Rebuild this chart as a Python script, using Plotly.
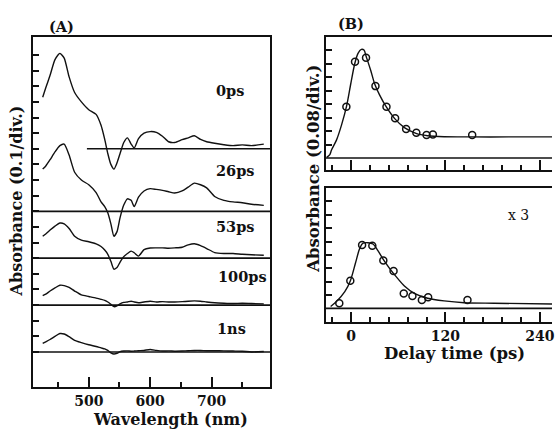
import plotly.graph_objects as go

W, H = 555, 429

# ---------------- Panel A: transient spectra ----------------
wl = [425, 430, 437, 445, 453, 460, 468, 477, 488, 500, 512, 520, 526, 531, 536,
      541, 546, 551, 557, 563, 569, 574, 581, 590, 600, 610, 620, 630, 640, 652,
      662, 672, 682, 692, 705, 720, 735, 750, 765, 785]

spec_0ps = [0.33, 0.39, 0.47, 0.57, 0.61, 0.58, 0.46, 0.36, 0.30, 0.25, 0.22, 0.15, 0.06, -0.03, -0.10,
            -0.13, -0.09, -0.03, 0.04, 0.07, 0.03, 0.005, 0.065, 0.10, 0.11, 0.105, 0.08, 0.045, 0.04, 0.058,
            0.07, 0.083, 0.06, 0.045, 0.035, 0.026, 0.02, 0.025, 0.02, 0.03]
spec_26ps = [0.27, 0.29, 0.33, 0.38, 0.42, 0.43, 0.36, 0.25, 0.20, 0.17, 0.12, 0.06, 0.03, -0.01, -0.08,
             -0.16, -0.13, -0.04, 0.04, 0.08, 0.07, 0.03, 0.09, 0.13, 0.145, 0.14, 0.134, 0.125, 0.117, 0.13,
             0.155, 0.18, 0.17, 0.15, 0.095, 0.07, 0.06, 0.055, 0.045, 0.038]
spec_53ps = [0.14, 0.155, 0.18, 0.205, 0.225, 0.22, 0.19, 0.14, 0.115, 0.105, 0.092, 0.075, 0.052, 0.025, -0.02,
             -0.07, -0.06, -0.025, 0.01, 0.03, 0.045, 0.035, 0.013, 0.055, 0.065, 0.066, 0.066, 0.064, 0.066, 0.07,
             0.085, 0.092, 0.08, 0.062, 0.036, 0.03, 0.03, 0.025, 0.022, 0.019]
spec_100ps = [0.06, 0.07, 0.09, 0.11, 0.127, 0.125, 0.113, 0.09, 0.065, 0.055, 0.045, 0.037, 0.03, 0.02, 0.005,
              -0.01, -0.005, 0.008, 0.017, 0.02, 0.025, 0.02, 0.015, 0.02, 0.025, 0.02, 0.022, 0.02, 0.02, 0.022,
              0.025, 0.027, 0.025, 0.02, 0.015, 0.012, 0.01, 0.012, 0.01, 0.008]
spec_1ns = [0.055, 0.065, 0.08, 0.10, 0.118, 0.115, 0.098, 0.075, 0.06, 0.046, 0.035, 0.026, 0.02, 0.01, -0.005,
            -0.013, -0.008, 0.002, 0.006, 0.007, 0.005, 0.006, 0.008, 0.01, 0.016, 0.01, 0.006, 0.007, 0.005, 0.006,
            0.008, 0.01, 0.01, 0.008, 0.008, 0.007, 0.006, 0.005, 0.0, 0.003]

spectra = [spec_0ps, spec_26ps, spec_53ps, spec_100ps, spec_1ns]
offsets = [1.3, 0.9, 0.6, 0.3, 0.0]
delay_labels = ["0ps", "26ps", "53ps", "100ps", "1ns"]
baseline_start = [497, 409.4, 409.4, 409.4, 409.4]
a_xrange = [409.4, 795.5]
a_yrange = [-0.222, 2.015]
a_yticks = [round(0.1 * k, 1) for k in range(20)]

# ---------------- Panel B: kinetics ----------------
t_top_pts = [-6, 5, 19, 31, 45, 56, 70, 83, 96, 104, 154]
a_top_pts = [0.304, 0.570, 0.594, 0.426, 0.304, 0.235, 0.172, 0.150, 0.136, 0.140, 0.136]
t_top_fit = [-31, -27, -24.9, -18.6, -12.2, -5.9, -0.4, 4.7, 8.8, 13, 16.4, 19.3, 24.9, 29.9, 36.2,
             44.6, 55.2, 67.8, 82.5, 97.3, 118.3, 152, 200, 256]
a_top_fit = [0.004, 0.02, 0.048, 0.106, 0.195, 0.304, 0.44, 0.56, 0.62, 0.644, 0.64, 0.60, 0.52, 0.44, 0.374,
             0.304, 0.235, 0.18, 0.146, 0.132, 0.126, 0.125, 0.125, 0.125]

t_bot_pts = [-15, -1, 14, 27, 41, 54, 67, 78, 90, 98, 148]
a_bot_pts = [0.031, 0.166, 0.379, 0.375, 0.286, 0.224, 0.090, 0.074, 0.050, 0.067, 0.050]
t_bot_fit = [-26, -18.6, -8, -0.9, 5.5, 11, 15.2, 21.5, 27.8, 34.1, 41.3, 48.9, 57.3, 67.8, 80.4,
             97.3, 118.3, 143.6, 181.5, 256]
a_bot_fit = [0.012, 0.041, 0.10, 0.166, 0.27, 0.359, 0.39, 0.393, 0.385, 0.345, 0.29, 0.24, 0.19, 0.134, 0.09,
             0.061, 0.045, 0.034, 0.031, 0.027]

b_xrange = [-32.5, 255.5]
b_top_yrange = [-0.071, 0.717]
b_bot_yrange = [-0.081, 0.72]
b_top_yticks = [0.08 * k for k in range(1, 9)]
b_bot_yticks = [0.08 * k for k in range(1, 10)]

FONT = "DejaVu Serif"
INK = "#111111"


def fx(px):
    return px / W


def fy(py):
    return 1 - py / H


fig = go.Figure()

# Panel A traces
for vals, off, x0 in zip(spectra, offsets, baseline_start):
    fig.add_trace(go.Scatter(x=[x0, a_xrange[1]], y=[off, off], mode="lines",
                             line=dict(color=INK, width=1.7), xaxis="x", yaxis="y",
                             showlegend=False, hoverinfo="skip"))
    fig.add_trace(go.Scatter(x=wl, y=[off + v for v in vals], mode="lines",
                             line=dict(color=INK, width=1.4, shape="spline", smoothing=0.6),
                             xaxis="x", yaxis="y", showlegend=False))

# Panel B top
fig.add_trace(go.Scatter(x=b_xrange, y=[0, 0], mode="lines", line=dict(color=INK, width=1.7),
                         xaxis="x2", yaxis="y2", showlegend=False, hoverinfo="skip"))
fig.add_trace(go.Scatter(x=t_top_fit, y=a_top_fit, mode="lines",
                         line=dict(color=INK, width=1.4, shape="spline", smoothing=0.8),
                         xaxis="x2", yaxis="y2", showlegend=False))
fig.add_trace(go.Scatter(x=t_top_pts, y=a_top_pts, mode="markers",
                         marker=dict(symbol="circle-open", size=7, color=INK, line=dict(width=1.5)),
                         xaxis="x2", yaxis="y2", showlegend=False))

# Panel B bottom
fig.add_trace(go.Scatter(x=b_xrange, y=[0, 0], mode="lines", line=dict(color=INK, width=1.7),
                         xaxis="x3", yaxis="y3", showlegend=False, hoverinfo="skip"))
fig.add_trace(go.Scatter(x=t_bot_fit, y=a_bot_fit, mode="lines",
                         line=dict(color=INK, width=1.4, shape="spline", smoothing=0.8),
                         xaxis="x3", yaxis="y3", showlegend=False))
fig.add_trace(go.Scatter(x=t_bot_pts, y=a_bot_pts, mode="markers",
                         marker=dict(symbol="circle-open", size=7, color=INK, line=dict(width=1.5)),
                         xaxis="x3", yaxis="y3", showlegend=False))

tickfont = dict(family=FONT, size=14, color=INK, weight="bold")
axis_common = dict(showgrid=False, zeroline=False, showline=True, linecolor=INK, linewidth=2,
                   ticks="inside", tickcolor=INK, tickwidth=1.5, tickfont=tickfont, fixedrange=True,
                   ticklabeloverflow="allow")

fig.update_layout(
    width=W, height=H,
    margin=dict(l=0, r=0, t=0, b=0),
    paper_bgcolor="white", plot_bgcolor="white",
    xaxis=dict(domain=[fx(33.3), fx(271.7)], range=a_xrange, anchor="y",
               tickmode="array", tickvals=[500, 600, 700], ticklen=10, mirror=True,
               minor=dict(tickvals=[450, 550, 650, 750], ticklen=5, tickwidth=1.5, tickcolor=INK, ticks="inside"),
               **axis_common),
    yaxis=dict(domain=[fy(386.7), fy(37)], range=a_yrange, anchor="x",
               tickmode="array", tickvals=a_yticks, ticklen=6, showticklabels=False, mirror=True,
               **axis_common),
    xaxis2=dict(domain=[fx(327.3), 1.0], range=b_xrange, anchor="y2",
                tickmode="array", tickvals=[0, 120, 240], ticklen=10, showticklabels=False, mirror=True,
                minor=dict(dtick=24, tick0=0, ticklen=5, tickwidth=1.5, tickcolor=INK, ticks="inside"),
                **axis_common),
    yaxis2=dict(domain=[fy(170), fy(37)], range=b_top_yrange, anchor="x2",
                tickmode="array", tickvals=b_top_yticks, ticklen=6, showticklabels=False,
                **axis_common),
    xaxis3=dict(domain=[fx(327.3), 1.0], range=b_xrange, anchor="y3",
                tickmode="array", tickvals=[0, 120, 240], ticklen=10, mirror=True,
                minor=dict(dtick=24, tick0=0, ticklen=5, tickwidth=1.5, tickcolor=INK, ticks="inside"),
                **axis_common),
    yaxis3=dict(domain=[fy(322), fy(188)], range=b_bot_yrange, anchor="x3",
                tickmode="array", tickvals=b_bot_yticks, ticklen=6, showticklabels=False,
                **axis_common),
)

ann = []
label_pos = [(231, 90), (236.7, 171), (236.7, 226.7), (244, 276.7), (233, 328)]
for lab, (px, py) in zip(delay_labels, label_pos):
    ann.append(dict(text="<b>%s</b>" % lab, x=fx(px), y=fy(py), xref="paper", yref="paper",
                    showarrow=False, xanchor="center", yanchor="middle",
                    font=dict(family=FONT, size=14.5, color=INK)))

ann += [
    dict(text="<b>(A)</b>", x=fx(62), y=fy(27), font=dict(family=FONT, size=14.5, color=INK)),
    dict(text="<b>(B)</b>", x=fx(353), y=fy(23.5), font=dict(family=FONT, size=14.5, color=INK)),
    dict(text="<b>Absorbance (0.1/div.)</b>", x=fx(17), y=fy(200.5), textangle=-90,
         font=dict(family=FONT, size=16, color=INK)),
    dict(text="<b>Absorbance (0.08/div.)</b>", x=fx(315), y=fy(168.5), textangle=-90,
         font=dict(family=FONT, size=16.5, color=INK)),
    dict(text="<b>Wavelength (nm)</b>", x=fx(171.7), y=fy(419), font=dict(family=FONT, size=16, color=INK)),
    dict(text="<b>Delay time (ps)</b>", x=fx(457), y=fy(353), font=dict(family=FONT, size=16.5, color=INK)),
    dict(text="x 3", x=fx(521), y=fy(215), font=dict(family=FONT, size=14, color=INK)),
]
for a in ann[len(delay_labels):]:
    a.update(xref="paper", yref="paper", showarrow=False, xanchor="center", yanchor="middle")

fig.update_layout(annotations=ann)
fig.write_html("out.html")
